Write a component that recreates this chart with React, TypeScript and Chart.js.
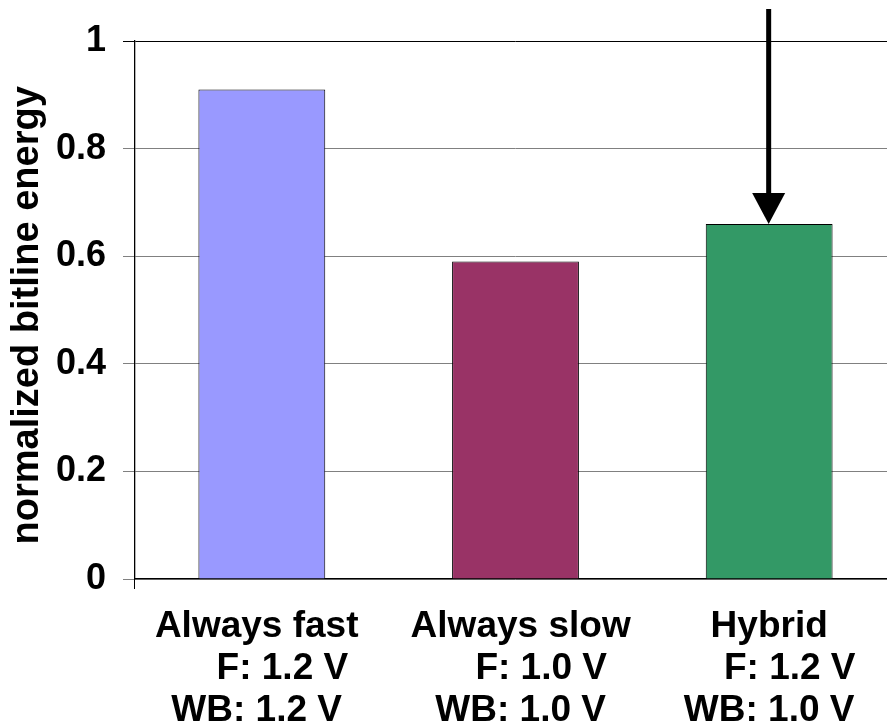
import React, { useEffect, useRef } from 'react';
import { Chart, registerables } from 'chart.js';

Chart.register(...registerables);

const categories: string[][] = [
  ['Always fast ', '    F: 1.2 V', 'WB: 1.2 V '],
  [' Always slow', '     F: 1.0 V', ' WB: 1.0 V'],
  ['Hybrid', '    F: 1.2 V', 'WB: 1.0 V'],
];
const energy = [0.91, 0.59, 0.66];
const barColors = ['#9999FF', '#993366', '#339966'];
const yTickValues = [0, 0.2, 0.4, 0.6, 0.8, 1];
const yTitle = 'normalized bitline energy';
const highlightIndex = 2;

const FONT = 'Arial, "Liberation Sans", sans-serif';

const arrowPlugin = {
  id: 'arrowPlugin',
  afterDatasetsDraw(chart: any) {
    const { ctx, scales } = chart;
    const x = scales.x;
    const y = scales.y;
    const px = x.getPixelForValue(highlightIndex) - 0.5;
    const tip = y.getPixelForValue(energy[highlightIndex]);
    const headH = 31;
    const headW = 16.5;
    const startY = 9;
    ctx.save();
    ctx.fillStyle = '#000';
    ctx.fillRect(px - 2.5, startY, 5, tip - headH - startY + 1);
    ctx.beginPath();
    ctx.moveTo(px - headW, tip - headH);
    ctx.lineTo(px + headW, tip - headH);
    ctx.lineTo(px, tip);
    ctx.closePath();
    ctx.fill();
    ctx.restore();
  },
};

export default function App() {
  const ref = useRef<HTMLCanvasElement | null>(null);

  useEffect(() => {
    if (!ref.current) return;
    const chart = new Chart(ref.current, {
      type: 'bar',
      data: {
        labels: categories,
        datasets: [
          {
            data: energy,
            backgroundColor: barColors,
            borderColor: '#000',
            borderWidth: 1,
            barPercentage: 1,
            categoryPercentage: 0.5,
          },
        ],
      },
      options: {
        animation: false,
        responsive: false,
        devicePixelRatio: 1,
        layout: { padding: { top: 41, left: 0, right: 0, bottom: 0 } },
        plugins: {
          legend: { display: false },
          tooltip: { enabled: false },
        },
        scales: {
          x: {
            grid: {
              display: true,
              drawOnChartArea: false,
              drawTicks: true,
              tickLength: 10,
              color: (c: any) => (c.index === 0 ? '#000' : 'rgba(0,0,0,0)'),
            },
            border: { color: '#000', width: 1.3 },
            ticks: {
              color: '#000',
              font: { family: FONT, size: 37, weight: 'bold', lineHeight: 1.135 },
              padding: 17,
              maxRotation: 0,
              minRotation: 0,
              autoSkip: false,
            },
            afterFit: (s: any) => {
              s.height = 146;
            },
          },
          y: {
            min: 0,
            max: 1,
            afterBuildTicks: (s: any) => {
              s.ticks = yTickValues.map((v) => ({ value: v }));
            },
            grid: {
              color: (c: any) => (c.tick && c.tick.value === 1 ? '#000' : '#808080'),
              lineWidth: 1,
              tickLength: 12,
            },
            border: { color: '#000', width: 1.3 },
            ticks: {
              color: '#000',
              font: { family: FONT, size: 36, weight: 'bold' },
              padding: 17,
              callback: (v: any) => String(Math.round(Number(v) * 10) / 10),
            },
            title: {
              display: true,
              text: yTitle + ' ',
              color: '#000',
              font: { family: FONT, size: 38, weight: 'bold' },
              padding: { top: 5, bottom: 0 },
            },
            afterFit: (s: any) => {
              s.width = 135;
            },
          },
        },
      },
      plugins: [arrowPlugin],
    } as any);
    return () => chart.destroy();
  }, []);

  return (
    <div
      style={{
        position: 'absolute',
        left: 0,
        top: 0,
        width: 887,
        height: 725,
        overflow: 'hidden',
        background: '#fff',
      }}
    >
      <canvas ref={ref} width={896} height={725} style={{ display: 'block', width: 896, height: 725 }} />
    </div>
  );
}
